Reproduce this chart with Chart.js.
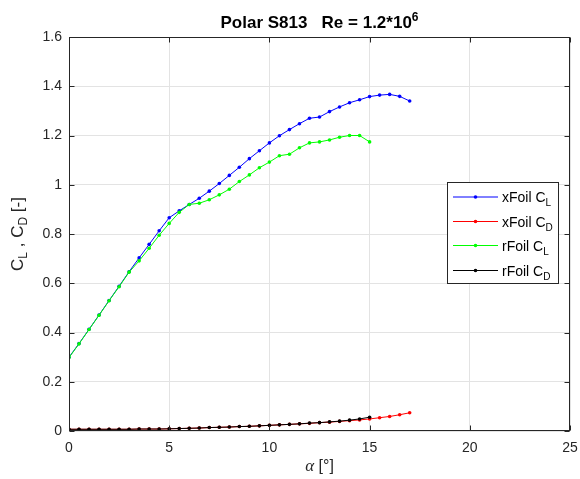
<!DOCTYPE html>
<html>
<head>
<meta charset="utf-8">
<script src="https://cdn.jsdelivr.net/npm/chart.js@4.4.0/dist/chart.umd.min.js"></script>
<style>
html,body{margin:0;padding:0;background:#fff;}
#wrap{position:relative;width:580px;height:479px;}
</style>
</head>
<body>
<div id="wrap"><canvas id="c" width="580" height="479"></canvas></div>
<script>
// ---- Data ----
const alphaXFoil = [0,0.5,1,1.5,2,2.5,3,3.5,4,4.5,5,5.5,6,6.5,7,7.5,8,8.5,9,9.5,10,10.5,11,11.5,12,12.5,13,13.5,14,14.5,15,15.5,16,16.5,17];
const clXFoil = [0.300,0.355,0.413,0.471,0.530,0.588,0.647,0.703,0.758,0.813,0.866,0.894,0.920,0.945,0.974,1.005,1.038,1.071,1.106,1.138,1.170,1.199,1.224,1.248,1.270,1.275,1.297,1.316,1.333,1.345,1.358,1.364,1.367,1.359,1.340];
const cdXFoil = [0.007,0.007,0.007,0.007,0.007,0.007,0.007,0.008,0.008,0.008,0.009,0.010,0.011,0.012,0.014,0.015,0.016,0.018,0.019,0.021,0.023,0.025,0.027,0.029,0.031,0.034,0.036,0.039,0.042,0.045,0.049,0.054,0.059,0.066,0.074];
const alphaRFoil = [0,0.5,1,1.5,2,2.5,3,3.5,4,4.5,5,5.5,6,6.5,7,7.5,8,8.5,9,9.5,10,10.5,11,11.5,12,12.5,13,13.5,14,14.5,15];
const clRFoil = [0.298,0.354,0.412,0.470,0.529,0.586,0.645,0.691,0.742,0.795,0.843,0.888,0.920,0.925,0.939,0.959,0.982,1.013,1.040,1.069,1.092,1.118,1.124,1.150,1.170,1.174,1.182,1.193,1.200,1.200,1.174];
const cdRFoil = [0.007,0.007,0.007,0.007,0.007,0.007,0.007,0.008,0.008,0.008,0.009,0.010,0.011,0.012,0.014,0.015,0.016,0.018,0.019,0.021,0.023,0.025,0.027,0.029,0.032,0.034,0.037,0.040,0.044,0.049,0.056];
const xTicks = [0,5,10,15,20,25];
const yTicks = [0,0.2,0.4,0.6,0.8,1,1.2,1.4,1.6];
const seriesNames = [["xFoil C","L"],["xFoil C","D"],["rFoil C","L"],["rFoil C","D"]];
const seriesColors = ["#0000ff","#ff0000","#00ff00","#000000"];

function pts(xs, ys){ return xs.map((x,i)=>({x:x,y:ys[i]})); }

const SANS = "'Liberation Sans', Arial, Helvetica, sans-serif";
const TXT = "#262626";

function drawRich(ctx, segs, cx, baseY){
  let total = 0;
  segs.forEach(s=>{ ctx.font = s.font; s.w = ctx.measureText(s.t).width; total += s.w; });
  let x = cx - total/2;
  ctx.textAlign = "left"; ctx.textBaseline = "alphabetic";
  segs.forEach(s=>{ ctx.font = s.font; ctx.fillText(s.t, x, baseY + (s.dy||0)); x += s.w; });
}

const matlabPlugin = {
  id: "matlab",
  afterDraw(chart){
    const ctx = chart.ctx, a = chart.chartArea;
    const xs = chart.scales.x, ys = chart.scales.y;
    const L = Math.round(a.left)+0.5, R = Math.round(a.right)-0.5, T = Math.round(a.top)+0.5, B = Math.round(a.bottom)-0.5;
    ctx.save();
    ctx.strokeStyle = TXT; ctx.lineWidth = 1;
    ctx.strokeRect(L, T, R-L, B-T);
    ctx.beginPath();
    xTicks.forEach(v=>{ const px = Math.round(xs.getPixelForValue(v))+0.5; ctx.moveTo(px,B); ctx.lineTo(px,B-5); ctx.moveTo(px,T); ctx.lineTo(px,T+5); });
    yTicks.forEach(v=>{ const py = Math.round(ys.getPixelForValue(v))+0.5; ctx.moveTo(L,py); ctx.lineTo(L+5,py); ctx.moveTo(R,py); ctx.lineTo(R-5,py); });
    ctx.stroke();
    // title
    ctx.fillStyle = "#000";
    const cx = (a.left + a.right)/2;
    drawRich(ctx, [
      {t:"Polar S813   Re = 1.2*10", font:"bold 17px "+SANS},
      {t:"6", font:"bold 12px "+SANS, dy:-7}
    ], cx, 28);
    // x label
    ctx.fillStyle = TXT;
    drawRich(ctx, [
      {t:"\u03B1", font:"italic 17px 'Liberation Serif', 'Times New Roman', serif"},
      {t:" [\u00B0]", font:"16px "+SANS}
    ], cx, 471);
    // y label
    ctx.save();
    ctx.translate(23, (a.top + a.bottom)/2);
    ctx.rotate(-Math.PI/2);
    drawRich(ctx, [
      {t:"C", font:"17px "+SANS},
      {t:"L", font:"12px "+SANS, dy:4},
      {t:" , C", font:"17px "+SANS},
      {t:"D", font:"12px "+SANS, dy:4},
      {t:" [-]", font:"17px "+SANS}
    ], 0, 0);
    ctx.restore();
    // legend
    const lx = 447.5, ly = 182.5, lw = 111, lh = 101;
    ctx.fillStyle = "#fff"; ctx.fillRect(lx, ly, lw, lh);
    ctx.strokeStyle = TXT; ctx.strokeRect(lx, ly, lw, lh);
    const rowY = [197, 221.5, 245.5, 270.5];
    seriesNames.forEach((n,i)=>{
      const y = rowY[i];
      ctx.strokeStyle = seriesColors[i]; ctx.lineWidth = 1;
      ctx.beginPath(); ctx.moveTo(453, y); ctx.lineTo(498, y); ctx.stroke();
      ctx.fillStyle = seriesColors[i];
      ctx.beginPath(); ctx.arc(475.5, y, 1.8, 0, Math.PI*2); ctx.fill();
      ctx.fillStyle = "#000";
      ctx.font = "14px "+SANS; ctx.textAlign="left"; ctx.textBaseline="alphabetic";
      ctx.fillText(n[0], 502, y+5);
      const w = ctx.measureText(n[0]).width;
      ctx.font = "10px "+SANS;
      ctx.fillText(n[1], 502+w, y+9);
    });
    ctx.restore();
  }
};

const ds = (label, xs, ys, color, order)=>({
  label: label, data: pts(xs, ys), showLine: true, borderColor: color, backgroundColor: color,
  borderWidth: 1, pointRadius: 1.8, pointHoverRadius: 1.8, pointBorderWidth: 0, order: order, tension: 0
});

new Chart(document.getElementById("c"), {
  type: "scatter",
  data: { datasets: [
    ds("xFoil C_L", alphaXFoil, clXFoil, seriesColors[0], 3),
    ds("xFoil C_D", alphaXFoil, cdXFoil, seriesColors[1], 2),
    ds("rFoil C_L", alphaRFoil, clRFoil, seriesColors[2], 1),
    ds("rFoil C_D", alphaRFoil, cdRFoil, seriesColors[3], 0)
  ]},
  options: {
    responsive: false, animation: false, devicePixelRatio: 1,
    layout: { padding: { top: 37, right: 10, left: 0, bottom: 0 } },
    plugins: { legend: { display: false }, title: { display: false }, tooltip: { enabled: false } },
    scales: {
      x: {
        type: "linear", min: 0, max: 25,
        afterBuildTicks: s => { s.ticks = xTicks.map(v=>({value:v})); },
        afterFit: s => { s.height = 48; s.paddingLeft = 0; s.paddingRight = 0; },
        grid: { color: "#e3e3e3", drawTicks: false, lineWidth: 1 },
        border: { display: false },
        ticks: { color: TXT, font: { family: SANS, size: 14 }, padding: 9, maxRotation: 0, callback: v => String(v) }
      },
      y: {
        type: "linear", min: 0, max: 1.6,
        afterBuildTicks: s => { s.ticks = yTicks.map(v=>({value:v})); },
        afterFit: s => { s.width = 69; s.paddingTop = 0; s.paddingBottom = 0; },
        grid: { color: "#e3e3e3", drawTicks: false, lineWidth: 1 },
        border: { display: false },
        ticks: { color: TXT, font: { family: SANS, size: 14 }, padding: 7, callback: v => String(+(+v).toFixed(1)) }
      }
    }
  },
  plugins: [matlabPlugin]
});
</script>
</body>
</html>
